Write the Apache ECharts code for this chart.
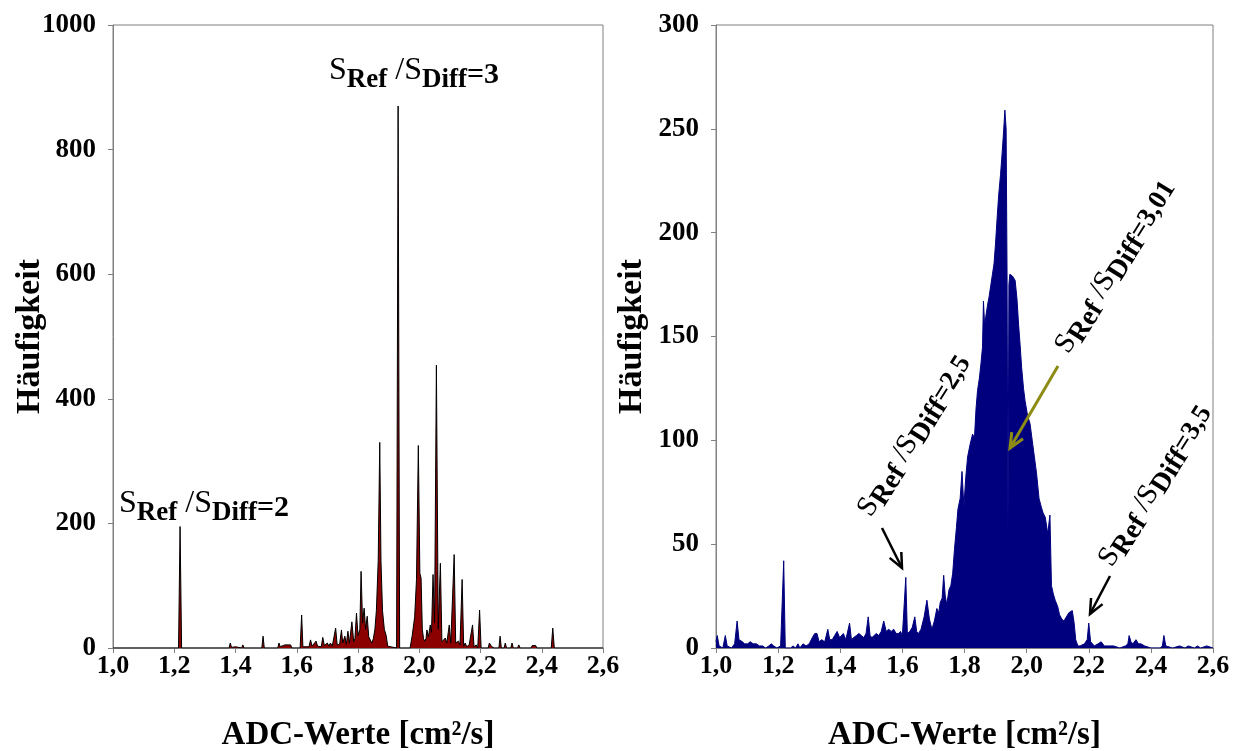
<!DOCTYPE html>
<html><head><meta charset="utf-8">
<script src="https://cdn.jsdelivr.net/npm/echarts@6/dist/echarts.min.js"></script>
<style>html,body{margin:0;padding:0;background:#fff}#c{width:1234px;height:751px}</style>
</head><body><div id="c"></div>
<script>
// ADC value (cm²/s) and frequency pairs
const leftPoints = [
[1.000,0],[1.030,0],[1.033,2],[1.036,0],[1.214,0],[1.219,195],[1.224,0],[1.334,0],[1.337,3],[1.340,0],
[1.356,0],[1.359,3],[1.362,0],[1.379,0],[1.383,8],[1.387,1],[1.400,2],[1.404,0],[1.420,0],[1.424,5],
[1.428,0],[1.454,0],[1.457,3],[1.460,0],[1.486,0],[1.490,19],[1.494,0],[1.514,0],[1.517,3],[1.521,0],
[1.538,0],[1.542,8],[1.546,2],[1.561,5],[1.566,2],[1.580,5],[1.584,0],[1.611,0],[1.616,53],[1.620,2],
[1.640,2],[1.645,13],[1.650,3],[1.656,4],[1.663,11],[1.668,3],[1.680,2],[1.685,17],[1.690,4],[1.700,8],
[1.705,3],[1.710,8],[1.716,3],[1.722,4],[1.727,32],[1.732,5],[1.740,6],[1.746,29],[1.750,8],[1.757,19],
[1.762,6],[1.767,27],[1.772,8],[1.780,42],[1.786,10],[1.790,15],[1.795,56],[1.800,20],[1.806,30],[1.810,123],
[1.815,40],[1.820,64],[1.825,30],[1.830,51],[1.835,18],[1.840,21],[1.845,8],[1.850,15],[1.855,29],[1.860,60],
[1.866,140],[1.871,330],[1.875,140],[1.880,60],[1.886,30],[1.892,20],[1.897,3],[1.902,0],[1.926,0],[1.931,870],
[1.936,0],[1.970,0],[1.977,20],[1.985,50],[1.991,110],[1.997,325],[2.002,120],[2.006,112],[2.010,30],[2.014,15],
[2.018,11],[2.022,15],[2.025,29],[2.030,18],[2.036,37],[2.040,25],[2.045,118],[2.050,40],[2.056,454],[2.062,30],
[2.069,136],[2.074,10],[2.080,8],[2.085,16],[2.090,8],[2.098,37],[2.103,8],[2.109,10],[2.114,150],[2.119,8],
[2.124,5],[2.128,11],[2.133,5],[2.140,110],[2.145,3],[2.150,8],[2.155,2],[2.163,5],[2.168,2],[2.174,37],
[2.179,2],[2.186,5],[2.191,0],[2.197,61],[2.202,0],[2.225,0],[2.229,8],[2.235,3],[2.240,3],[2.244,0],
[2.260,0],[2.264,19],[2.268,0],[2.277,0],[2.281,8],[2.285,0],[2.299,0],[2.303,8],[2.307,0],[2.321,0],
[2.325,5],[2.329,0],[2.365,0],[2.369,4],[2.375,3],[2.380,4],[2.384,0],[2.431,0],[2.436,32],[2.441,0],[2.600,0]
];
const rightPoints = [
[1.000,3],[1.004,6],[1.010,1],[1.022,0],[1.030,6],[1.036,1],[1.050,0],[1.060,2],[1.068,13],[1.074,4],
[1.085,3],[1.092,2],[1.102,2],[1.110,3],[1.120,2],[1.130,2],[1.140,1],[1.150,1],[1.160,0],[1.170,1],
[1.178,2],[1.186,1],[1.196,0],[1.208,1],[1.214,1],[1.218,42],[1.223,0],[1.240,0],[1.248,1],[1.256,0],
[1.264,2],[1.270,0],[1.280,2],[1.290,1],[1.300,2],[1.310,5],[1.318,7],[1.325,7],[1.332,3],[1.340,4],
[1.350,3],[1.360,9],[1.366,4],[1.374,4],[1.382,6],[1.390,8],[1.398,5],[1.410,7],[1.418,4],[1.430,12],
[1.436,4],[1.443,5],[1.452,6],[1.460,7],[1.468,6],[1.476,5],[1.483,7],[1.490,15],[1.496,6],[1.502,5],
[1.508,5],[1.516,7],[1.524,6],[1.532,8],[1.540,13],[1.548,8],[1.556,9],[1.564,8],[1.572,9],[1.580,7],
[1.588,7],[1.594,8],[1.600,6],[1.611,34],[1.616,7],[1.624,8],[1.632,10],[1.640,15],[1.646,8],[1.652,7],
[1.660,9],[1.670,15],[1.679,23],[1.687,14],[1.695,9],[1.703,13],[1.711,19],[1.717,17],[1.722,22],[1.728,24],
[1.733,35],[1.738,25],[1.743,21],[1.750,28],[1.756,30],[1.762,36],[1.768,48],[1.774,58],[1.779,67],[1.786,72],
[1.792,85],[1.798,68],[1.804,82],[1.810,92],[1.818,98],[1.826,103],[1.832,101],[1.837,115],[1.842,124],[1.848,130],
[1.853,137],[1.858,145],[1.861,167],[1.865,155],[1.868,159],[1.874,165],[1.879,169],[1.885,175],[1.890,180],[1.895,185],
[1.900,195],[1.905,207],[1.910,218],[1.916,228],[1.921,238],[1.926,249],[1.930,259],[1.934,250],[1.937,180],[1.940,55],
[1.943,175],[1.946,180],[1.955,179],[1.963,177],[1.969,168],[1.974,156],[1.979,146],[1.984,135],[1.990,125],[1.995,119],
[2.003,112],[2.011,108],[2.018,100],[2.025,92],[2.032,84],[2.040,72],[2.047,68],[2.053,65],[2.060,63],[2.068,55],
[2.075,64],[2.080,30],[2.086,26],[2.092,23],[2.100,20],[2.106,16],[2.113,14],[2.120,13],[2.128,15],[2.136,17],
[2.147,18],[2.153,12],[2.158,4],[2.165,1],[2.172,1],[2.186,2],[2.195,4],[2.200,12],[2.206,3],[2.218,1],
[2.230,2],[2.240,3],[2.250,1],[2.265,1],[2.280,1],[2.300,0],[2.318,1],[2.326,2],[2.330,6],[2.336,3],
[2.342,2],[2.352,4],[2.360,2],[2.368,2],[2.380,1],[2.400,0],[2.430,0],[2.437,1],[2.442,6],[2.448,1],
[2.470,0],[2.492,1],[2.510,0],[2.520,1],[2.540,0],[2.550,1],[2.560,0],[2.580,1],[2.600,0]
];
const xRange = [1.0, 2.6, 0.2];
const leftYRange = [0, 1000, 200];
const rightYRange = [0, 300, 50];
const xTitle = 'ADC-Werte [cm²/s]';
const yTitle = 'Häufigkeit';
const annLeft = ['3', '2'];
const annRight = ['2,5', '3,01', '3,5'];

const FONT = 'Liberation Serif';
const GRID_COLOR = '#808080';

function xAxis(gridIndex) {
  return {
    type: 'value', gridIndex, min: xRange[0], max: xRange[1], interval: xRange[2],
    axisLine: { show: true, lineStyle: { color: GRID_COLOR, width: 1 } },
    axisTick: { show: true, inside: false, length: 5, lineStyle: { color: GRID_COLOR } },
    splitLine: { show: false },
    axisLabel: { formatter: v => v.toFixed(1).replace('.', ','), fontFamily: FONT, fontWeight: 'bold', fontSize: 26, color: '#000', margin: 5 },
    name: xTitle, nameLocation: 'middle', nameGap: 71, nameMoveOverlap: false,
    nameTextStyle: { fontFamily: FONT, fontWeight: 'bold', fontSize: 33, color: '#000' }
  };
}
function yAxis(gridIndex, r, gap) {
  return {
    type: 'value', gridIndex, min: r[0], max: r[1], interval: r[2],
    axisLine: { show: true, lineStyle: { color: GRID_COLOR, width: 1 } },
    axisTick: { show: true, inside: false, length: 5, lineStyle: { color: GRID_COLOR } },
    splitLine: { show: false },
    axisLabel: { formatter: v => String(v), fontFamily: FONT, fontWeight: 'bold', fontSize: 27, color: '#000', margin: 17 },
    name: yTitle, nameLocation: 'middle', nameGap: gap, nameMoveOverlap: false,
    nameTextStyle: { fontFamily: FONT, fontWeight: 'bold', fontSize: 34, color: '#000' }
  };
}

function ratioRich(val, big, small, drop) {
  return {
    text: '{s|S}{b|Ref}{s| /S}{b|Diff}{e|=' + val + '}',
    rich: {
      s: { fontFamily: FONT, fontSize: big, fontWeight: 'normal', fill: '#000', padding: [0, 0, drop, 0] },
      b: { fontFamily: FONT, fontSize: small, fontWeight: 'bold', fill: '#000', padding: [drop, 0, 0, 0] },
      e: { fontFamily: FONT, fontSize: big - 2, fontWeight: 'bold', fill: '#000', padding: [Math.round(drop / 2), 0, Math.round(drop / 2), 0] }
    }
  };
}

function arrow(x1, y1, x2, y2, color, w) {
  const ang = Math.atan2(y2 - y1, x2 - x1), L = 16, a = 0.42;
  const p1 = [x2 - L * Math.cos(ang - a), y2 - L * Math.sin(ang - a)];
  const p2 = [x2 - L * Math.cos(ang + a), y2 - L * Math.sin(ang + a)];
  return [
    { type: 'line', z: 100, shape: { x1, y1, x2, y2 }, style: { stroke: color, lineWidth: w } },
    { type: 'polyline', z: 100, shape: { points: [p1, [x2, y2], p2] }, style: { stroke: color, lineWidth: w, fill: null } }
  ];
}

function textEl(x, y, rotDeg, r, align, vAlign) {
  return {
    type: 'text', z: 100, x, y, rotation: rotDeg * Math.PI / 180,
    style: Object.assign({ align: align || 'center', verticalAlign: vAlign || 'middle' }, r)
  };
}

const rot = 58;
const graphics = [
  textEl(329, 55, 0, ratioRich(annLeft[0], 32, 27, 9), 'left', 'top'),
  textEl(119, 488, 0, ratioRich(annLeft[1], 32, 27, 9), 'left', 'top'),
  textEl(916, 437, rot, ratioRich(annRight[0], 29, 28, 6)),
  textEl(1117, 268, rot, ratioRich(annRight[1], 29, 28, 6)),
  textEl(1157, 487, rot, ratioRich(annRight[2], 29, 28, 6)),
  ...arrow(882, 528, 902, 568, '#000', 2.5),
  ...arrow(1110, 576, 1090, 614, '#000', 2.5),
  ...arrow(1058, 366, 1010, 448, '#8c8c14', 3)
];

const chart = echarts.init(document.getElementById('c'), null, { renderer: 'canvas' });
chart.setOption({
  animation: false,
  backgroundColor: '#fff',
  grid: [
    { left: 113, right: 631, top: 25, bottom: 103, show: true, borderColor: GRID_COLOR, borderWidth: 1, outerBoundsMode: 'none', containLabel: false },
    { left: 716, right: 21, top: 25, bottom: 103, show: true, borderColor: GRID_COLOR, borderWidth: 1, outerBoundsMode: 'none', containLabel: false }
  ],
  xAxis: [xAxis(0), xAxis(1)],
  yAxis: [yAxis(0, leftYRange, 66), yAxis(1, rightYRange, 67)],
  series: [
    { type: 'line', xAxisIndex: 0, yAxisIndex: 0, data: leftPoints, symbol: 'none', showSymbol: false,
      lineStyle: { color: '#000', width: 1 }, areaStyle: { color: '#8b0000', opacity: 1 } },
    { type: 'line', xAxisIndex: 1, yAxisIndex: 1, data: rightPoints, symbol: 'none', showSymbol: false,
      lineStyle: { color: '#00007f', width: 1 }, areaStyle: { color: '#00007f', opacity: 1 } }
  ],
  graphic: graphics
});
</script>
</body></html>
